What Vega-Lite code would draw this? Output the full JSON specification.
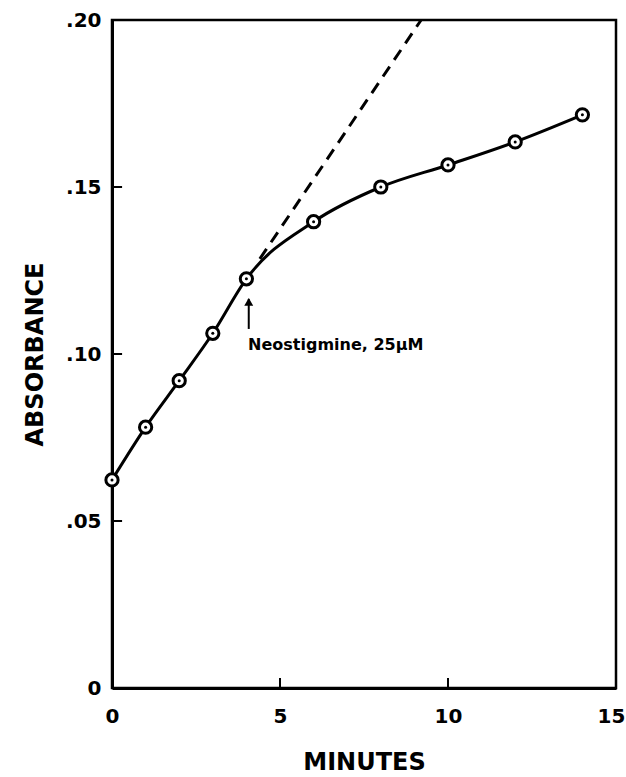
{
  "$schema": "https://vega.github.io/schema/vega-lite/v6.json",
  "width": 504,
  "height": 668,
  "autosize": "none",
  "padding": {"left": 112, "top": 20, "right": 10, "bottom": 89},
  "background": "white",
  "config": {
    "view": {"stroke": "black", "strokeWidth": 2.5},
    "axis": {
      "domainColor": "black", "domainWidth": 3,
      "ticks": false,
      "grid": false,
      "labelFont": "DejaVu Sans", "labelFontSize": 20, "labelFontWeight": "bold", "labelColor": "black",
      "labelFlush": false,
      "titleFont": "DejaVu Sans", "titleFontSize": 24, "titleFontWeight": "bold", "titleColor": "black"
    }
  },
  "datasets": {
    "pts": [
      {"t": 0, "a": 0.0623},
      {"t": 1, "a": 0.0781},
      {"t": 2, "a": 0.0920},
      {"t": 3, "a": 0.1062},
      {"t": 4, "a": 0.1225},
      {"t": 6, "a": 0.1396},
      {"t": 8, "a": 0.1500},
      {"t": 10, "a": 0.1566},
      {"t": 12, "a": 0.1635},
      {"t": 14, "a": 0.1716}
    ],
    "dash": [
      {"t": 4.4, "a": 0.1285},
      {"t": 9.2, "a": 0.2}
    ],
    "yticks": [
      {"t": 0, "t2": 0.3, "a": 0.05},
      {"t": 0, "t2": 0.3, "a": 0.10},
      {"t": 0, "t2": 0.3, "a": 0.15}
    ],
    "xticks": [
      {"t": 5, "a": 0, "a2": 0.003},
      {"t": 10, "a": 0, "a2": 0.003}
    ],
    "arrow": [
      {"t": 4.07, "a": 0.1075, "a2": 0.1165}
    ],
    "label": [
      {"t": 4.05, "a": 0.1027, "txt": "Neostigmine, 25μM"}
    ]
  },
  "layer": [
    {
      "data": {"name": "dash"},
      "mark": {"type": "line", "color": "black", "strokeWidth": 3, "strokeDash": [12, 8]},
      "encoding": {
        "x": {"field": "t", "type": "quantitative", "scale": {"domain": [0, 15], "nice": false},
          "axis": {"values": [0, 5, 10, 15], "title": "MINUTES", "labelPadding": 18, "titleY": 74, "titleBaseline": "middle",
            "labelOffset": {"condition": {"test": "datum.value == 15", "value": -5}, "value": 0}}},
        "y": {"field": "a", "type": "quantitative", "scale": {"domain": [0, 0.2], "nice": false},
          "axis": {"values": [0, 0.05, 0.1, 0.15, 0.2], "title": "ABSORBANCE", "labelPadding": 11,
            "labelExpr": "datum.value == 0 ? '0' : replace(format(datum.value, '.2f'), '0.', '.')",
            "titleX": -77, "titleBaseline": "middle"}}
      }
    },
    {
      "data": {"name": "yticks"},
      "mark": {"type": "rule", "color": "black", "strokeWidth": 2},
      "encoding": {
        "x": {"field": "t", "type": "quantitative"},
        "x2": {"field": "t2"},
        "y": {"field": "a", "type": "quantitative"}
      }
    },
    {
      "data": {"name": "xticks"},
      "mark": {"type": "rule", "color": "black", "strokeWidth": 2},
      "encoding": {
        "x": {"field": "t", "type": "quantitative"},
        "y": {"field": "a", "type": "quantitative"},
        "y2": {"field": "a2"}
      }
    },
    {
      "data": {"name": "pts"},
      "mark": {"type": "line", "color": "black", "strokeWidth": 3, "interpolate": "monotone"},
      "encoding": {
        "x": {"field": "t", "type": "quantitative"},
        "y": {"field": "a", "type": "quantitative"}
      }
    },
    {
      "data": {"name": "pts"},
      "mark": {"type": "point", "shape": "circle", "filled": true, "fill": "white", "stroke": "black", "strokeWidth": 3, "size": 150, "opacity": 1},
      "encoding": {
        "x": {"field": "t", "type": "quantitative"},
        "y": {"field": "a", "type": "quantitative"}
      }
    },
    {
      "data": {"name": "pts"},
      "mark": {"type": "point", "shape": "circle", "filled": true, "color": "black", "size": 9, "opacity": 1},
      "encoding": {
        "x": {"field": "t", "type": "quantitative"},
        "y": {"field": "a", "type": "quantitative"}
      }
    },
    {
      "data": {"name": "arrow"},
      "mark": {"type": "rule", "color": "black", "strokeWidth": 2},
      "encoding": {
        "x": {"field": "t", "type": "quantitative"},
        "y": {"field": "a", "type": "quantitative"},
        "y2": {"field": "a2"}
      }
    },
    {
      "data": {"name": "arrow"},
      "mark": {"type": "point", "shape": "triangle-up", "filled": true, "color": "black", "size": 80, "opacity": 1, "yOffset": 3},
      "encoding": {
        "x": {"field": "t", "type": "quantitative"},
        "y": {"field": "a2", "type": "quantitative"}
      }
    },
    {
      "data": {"name": "label"},
      "mark": {"type": "text", "align": "left", "baseline": "middle", "font": "DejaVu Sans", "fontSize": 16, "fontWeight": "bold", "color": "black"},
      "encoding": {
        "x": {"field": "t", "type": "quantitative"},
        "y": {"field": "a", "type": "quantitative"},
        "text": {"field": "txt"}
      }
    }
  ]
}
